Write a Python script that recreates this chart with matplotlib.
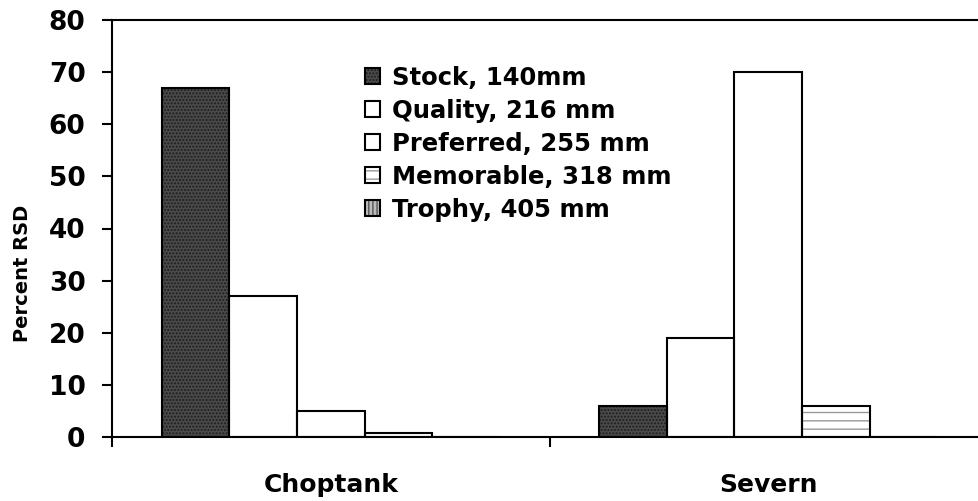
"""Percent RSD by length category, Choptank vs Severn."""
import matplotlib
matplotlib.use("Agg")
import matplotlib.pyplot as plt
import numpy as np

# ── Data ───────────────────────────────────────────────────────────────────────
rivers = ["Choptank", "Severn"]
categories = ["Stock, 140mm", "Quality, 216 mm", "Preferred, 255 mm",
              "Memorable, 318 mm", "Trophy, 405 mm"]
stock = [67, 6]
quality = [27, 19]
preferred = [5, 70]
memorable = [0.8, 6]
trophy = [0, 0]
series = [stock, quality, preferred, memorable, trophy]

# ── Styles (fill, hatch, hatch colour) ─────────────────────────────────────────
styles = [
    ("#4a4a4a", ".....", "#1e1e1e"),
    ("white",   None,    "black"),
    ("white",   None,    "black"),
    ("white",   "--",    "#999999"),
    ("#bbbbbb", "||||",  "#555555"),
]

plt.rcParams["font.family"] = "DejaVu Sans"
plt.rcParams["font.weight"] = "bold"
plt.rcParams["hatch.linewidth"] = 1.0

fig = plt.figure(figsize=(9.79, 5.01), dpi=100)
ax = fig.add_axes([112 / 979, 1 - 437 / 501, 875 / 979, 417 / 501])

x = np.arange(len(rivers))
w = 0.1545
handles = []
for i, (vals, (fc, hatch, hc)) in enumerate(zip(series, styles)):
    pos = x + (i - 2) * w
    fill = ax.bar(pos, vals, w, color=fc, hatch=hatch, edgecolor=hc,
                  linewidth=0, zorder=2)
    edge = ax.bar(pos, vals, w, fill=False, edgecolor="black",
                  linewidth=1.5, zorder=3)
    handles.append((fill[0], edge[0]))

ax.set_xlim(-0.5, 1.5)
ax.set_ylim(0, 80)
ax.set_yticks(np.arange(0, 81, 10))
ax.set_xticks(x)
ax.set_xticklabels(rivers, fontsize=18, fontweight="bold")
ax.set_xticks([-0.5, 0.5], minor=True)
ax.tick_params(axis="x", which="major", length=0, pad=26)
ax.tick_params(axis="x", which="minor", length=7, width=1.5, direction="out")
ax.tick_params(axis="y", length=7, width=1.5, direction="out", pad=12,
               labelsize=19)
for lab in ax.get_yticklabels():
    lab.set_fontweight("bold")

for side in ["left", "bottom", "top"]:
    ax.spines[side].set_linewidth(1.5)
ax.spines["right"].set_visible(False)

ax.set_ylabel("Percent RSD", fontsize=14, fontweight="bold")
ax.yaxis.set_label_coords(-0.092, 0.393)

ax.legend(handles, categories, loc="upper left",
          bbox_to_anchor=(0.289, 0.890), frameon=False,
          prop={"weight": "bold", "size": 17.5},
          handlelength=0.62, handleheight=0.62, handletextpad=0.5,
          labelspacing=0.37, borderpad=0, borderaxespad=0)

fig.savefig("out.png", dpi=100, facecolor="white")
